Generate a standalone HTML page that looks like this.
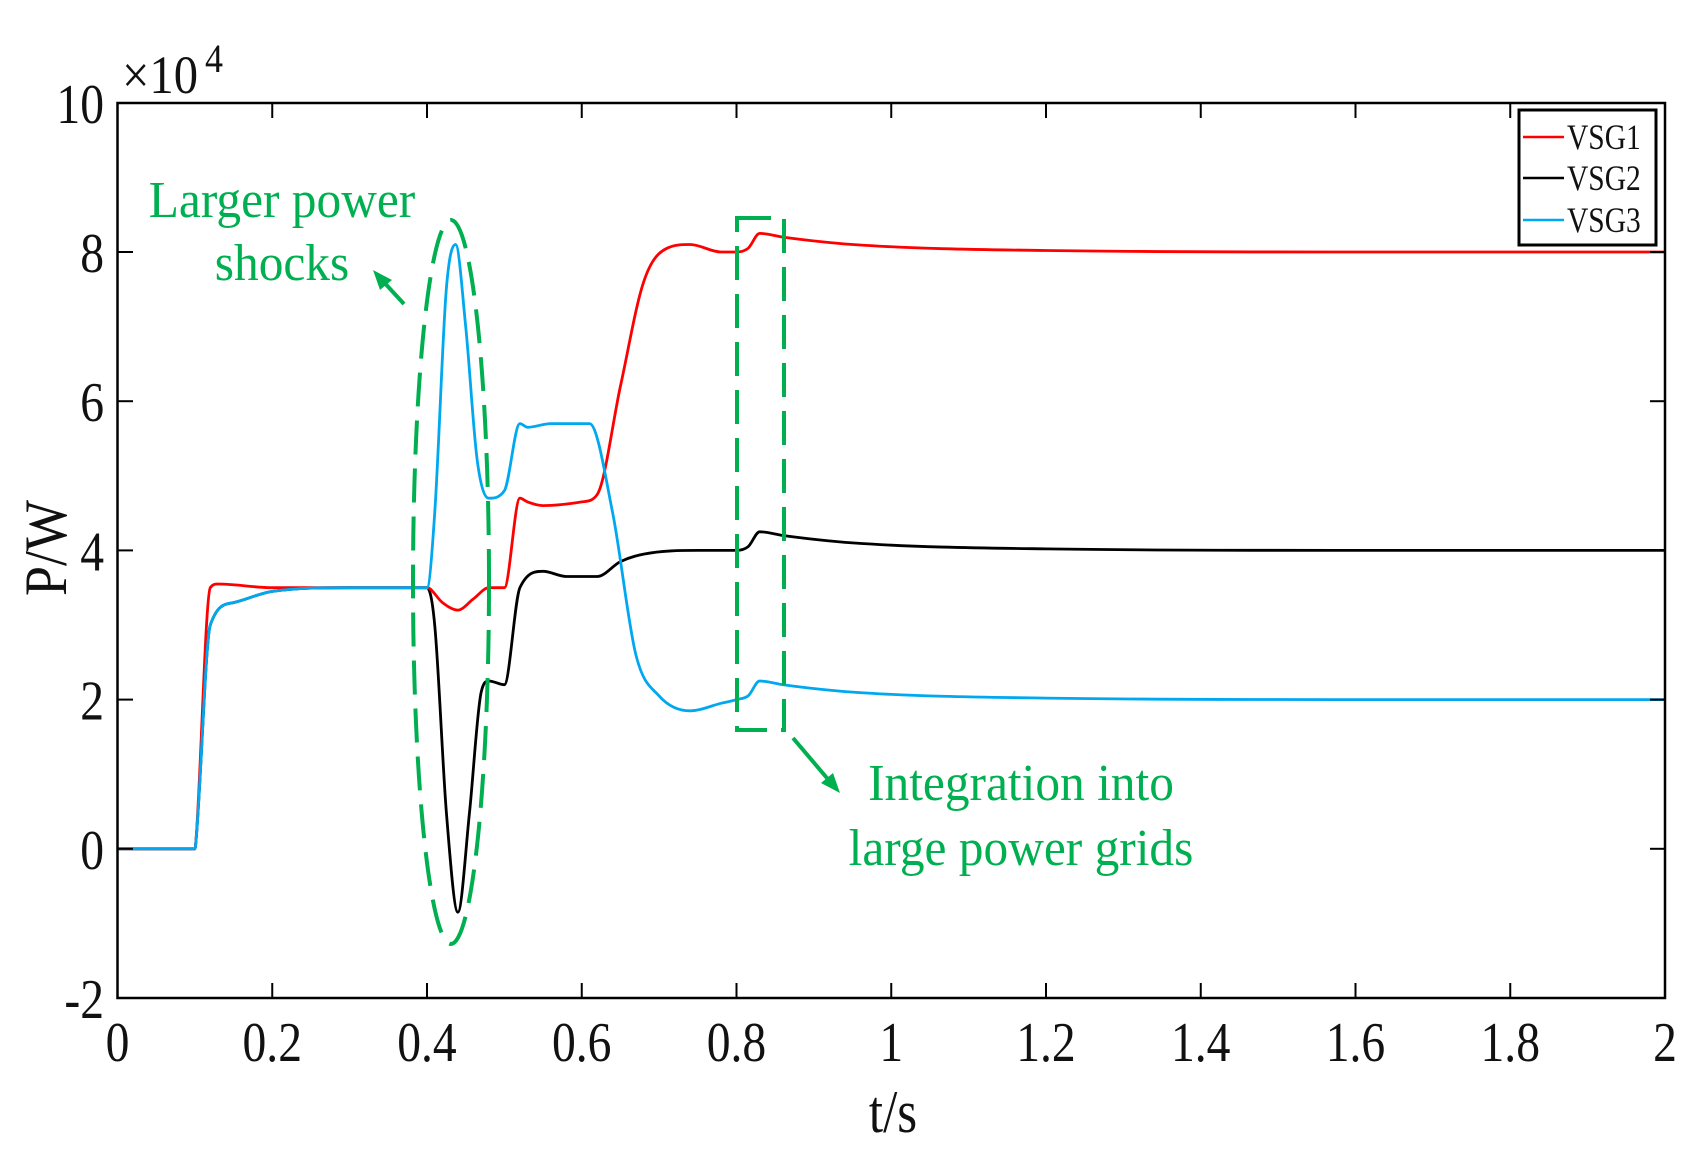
<!DOCTYPE html>
<html><head><meta charset="utf-8"><style>
html,body{margin:0;padding:0;background:#fff;}
svg text{font-family:"Liberation Serif",serif;}
</style></head><body>
<svg id="s" width="1703" height="1160" viewBox="0 0 1703 1160" xmlns="http://www.w3.org/2000/svg">
<rect width="1703" height="1160" fill="#fff"/>
<g id="plot"></g>
<g id="axes" stroke="#000" stroke-width="2.5" fill="none"></g>
<g id="lab" fill="#111"></g>
</svg>
<script>
const NS="http://www.w3.org/2000/svg";
const X=t=>117.5+t*773.75, Y=v=>998-(v+2)*74.6;
function el(p,tag,a,txt){const e=document.createElementNS(NS,tag);for(const k in a)e.setAttribute(k,a[k]);if(txt!==undefined)e.textContent=txt;document.getElementById(p).appendChild(e);return e;}
function path(pts){
  // monotone cubic (Fritsch-Carlson)
  const P=pts.map(p=>[X(p[0]),Y(p[1])]);const n=P.length;
  const d=[],m=new Array(n);
  for(let i=0;i<n-1;i++){const dx=P[i+1][0]-P[i][0];d.push(dx>0?(P[i+1][1]-P[i][1])/dx:0);}
  m[0]=d[0];m[n-1]=d[n-2];
  for(let i=1;i<n-1;i++){if(d[i-1]*d[i]<=0)m[i]=0;else{m[i]=(d[i-1]+d[i])/2;}}
  for(let i=0;i<n-1;i++){if(d[i]===0){m[i]=0;m[i+1]=0;continue;}const a=m[i]/d[i],b=m[i+1]/d[i],s=a*a+b*b;if(s>9){const t=3/Math.sqrt(s);m[i]=t*a*d[i];m[i+1]=t*b*d[i];}}
  let s="M"+P[0][0].toFixed(1)+","+P[0][1].toFixed(1);
  for(let i=0;i<n-1;i++){const h=(P[i+1][0]-P[i][0])/3;
    s+=` C${(P[i][0]+h).toFixed(1)},${(P[i][1]+m[i]*h).toFixed(1)} ${(P[i+1][0]-h).toFixed(1)},${(P[i+1][1]-m[i+1]*h).toFixed(1)} ${P[i+1][0].toFixed(1)},${P[i+1][1].toFixed(1)}`;}
  return s;
}
const red=[[0,0],[0.1,0],[0.101,0.05],[0.12,3.5],[0.13,3.55],[0.2,3.5],[0.3,3.5],[0.4,3.5],[0.42,3.3],[0.44,3.2],[0.46,3.35],[0.48,3.5],[0.5,3.5],[0.52,4.7],[0.53,4.65],[0.55,4.6],[0.6,4.65],[0.62,4.75],[0.65,6.2],[0.68,7.6],[0.71,8.05],[0.74,8.1],[0.78,8.0],[0.8,8.0],[0.815,8.05],[0.83,8.25],[0.86,8.2],[0.95,8.1],[1.2,8.02],[1.6,8.0],[2,8.0]];
const blk=[[0,0],[0.1,0],[0.101,0.05],[0.12,3.0],[0.15,3.3],[0.2,3.45],[0.3,3.5],[0.4,3.5],[0.41,3.0],[0.425,0.5],[0.44,-0.85],[0.455,0.5],[0.47,2.1],[0.48,2.25],[0.5,2.2],[0.52,3.5],[0.55,3.72],[0.58,3.65],[0.62,3.65],[0.65,3.85],[0.68,3.95],[0.75,4.0],[0.8,4.0],[0.815,4.05],[0.83,4.25],[0.86,4.2],[0.95,4.1],[1.2,4.02],[1.6,4.0],[2,4.0]];
const blu=[[0,0],[0.1,0],[0.101,0.05],[0.12,3.0],[0.15,3.3],[0.2,3.45],[0.3,3.5],[0.4,3.5],[0.41,4.5],[0.425,7.5],[0.437,8.1],[0.45,7.0],[0.465,5.2],[0.48,4.7],[0.5,4.8],[0.52,5.7],[0.53,5.65],[0.56,5.7],[0.61,5.7],[0.64,4.5],[0.67,2.6],[0.7,2.05],[0.74,1.85],[0.78,1.95],[0.8,2.0],[0.815,2.05],[0.83,2.25],[0.86,2.2],[0.95,2.1],[1.2,2.02],[1.6,2.0],[2,2.0]];
el("plot","path",{d:path(blk),stroke:"#000",fill:"none","stroke-width":2.8});
el("plot","path",{d:path(red),stroke:"#ff0000",fill:"none","stroke-width":2.8});
el("plot","path",{d:path(blu),stroke:"#00a8f0",fill:"none","stroke-width":2.8});
const G="#00b050";
el("plot","ellipse",{cx:451,cy:582,rx:38,ry:362,stroke:G,fill:"none","stroke-width":4,"stroke-dasharray":"34,14"});
el("plot","rect",{x:737,y:218,width:47,height:512,stroke:G,fill:"none","stroke-width":4,"stroke-dasharray":"34,14"});
el("plot","line",{x1:404,y1:304,x2:380,y2:278,stroke:G,"stroke-width":4});
el("plot","polygon",{points:"373,270 392,280 380,290",fill:G});
el("plot","line",{x1:793,y1:738,x2:832,y2:784,stroke:G,"stroke-width":4});
el("plot","polygon",{points:"840,793 821,783 833,773",fill:G});
function T(x,y,s,txt,anchor,fill,sx){return el("lab","text",{x:x/sx,y:y,"font-size":s,"text-anchor":anchor,fill:fill,transform:`scale(${sx},1)`},txt);}
T(282,217,52,"Larger power","middle",G,0.95);
T(282,280,52,"shocks","middle",G,0.95);
T(1021,800,52,"Integration into","middle",G,0.95);
T(1021,865,52,"large power grids","middle",G,0.95);
el("axes","rect",{x:117.5,y:103,width:1547.5,height:895});
for(let i=1;i<10;i++){const x=X(i*0.2);el("axes","line",{x1:x,y1:998,x2:x,y2:983,"stroke-width":2});el("axes","line",{x1:x,y1:103,x2:x,y2:118,"stroke-width":2});}
for(let v=0;v<=8;v+=2){const y=Y(v);el("axes","line",{x1:117.5,y1:y,x2:133,y2:y,"stroke-width":2});el("axes","line",{x1:1665,y1:y,x2:1650,y2:y,"stroke-width":2});}
for(let i=0;i<=10;i++){const t=i*0.2;let s=(Math.round(t*10)/10).toString();T(X(t),1061,56,s,"middle","#111",0.85);}
for(let v=-2;v<=10;v+=2){T(104,Y(v)+20,56,String(v),"end","#111",0.85);}
T(893,1132,60,"t/s","middle","#111",0.85);
el("lab","text",{x:0,y:0,"font-size":60,"text-anchor":"middle",fill:"#111",transform:"translate(66,548) rotate(-90) scale(0.9,1)"},"P/W");
T(122,93,54,"×10","start","#111",0.9);
T(205,72,40,"4","start","#111",0.9);
el("axes","rect",{x:1519,y:110,width:137,height:135,"stroke-width":3});
const L=[["#ff0000","VSG1",137],["#000","VSG2",178],["#00a8f0","VSG3",220]];
L.forEach(l=>{el("plot","line",{x1:1523,y1:l[2],x2:1564,y2:l[2],stroke:l[0],"stroke-width":2.5});T(1567,l[2]+12,36,l[1],"start","#111",0.82);});
</script>
</body></html>
